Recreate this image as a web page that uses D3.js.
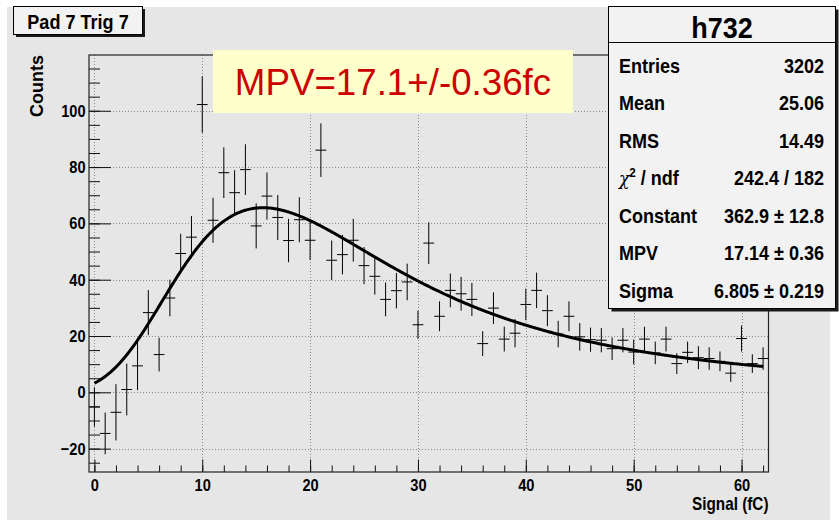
<!DOCTYPE html>
<html>
<head>
<meta charset="utf-8">
<script src="https://cdn.jsdelivr.net/npm/d3@7"></script>
<style>
  html, body { margin: 0; padding: 0; background: #ffffff; }
  svg { display: block; }
</style>
</head>
<body>
<svg id="chart" width="839" height="520"></svg>
<script>
// Histogram h732: background-subtracted signal per 1 fC bin (bin centres 0..62)
const binCenters = d3.range(0, 63);
const counts = [
  -5.2, -14.6, -7.1, 1.0, 9.4, 28.3, 13.4, 33.5, 49.3, 55.1,
  102.2, 61.1, 78.0, 70.9, 79.1, 59.1, 69.7, 62.1, 53.9, 61.3,
  54.0, 86.0, 46.9, 48.9, 54.0, 45.0, 41.2, 33.0, 36.1, 39.2,
  24.0, 53.0, 27.0, 36.2, 35.0, 33.0, 17.3, 29.9, 18.9, 21.0,
  31.2, 36.2, 29.0, 20.7, 27.0, 19.7, 18.7, 18.5, 15.5, 18.5,
  14.3, 18.9, 14.0, 18.9, 10.2, 14.2, 12.3, 12.0, 11.0, 6.8,
  19.1, 10.2, 12.0
];
const errors = [
  7.0, 7.4, 10.0, 9.2, 8.6, 8.0, 6.0, 6.5, 7.0, 7.5,
  10.0, 8.0, 9.0, 8.0, 9.0, 8.0, 8.4, 8.0, 7.7, 8.0,
  7.0, 9.5, 7.0, 7.0, 7.6, 6.6, 6.5, 6.0, 6.3, 6.5,
  5.0, 7.4, 5.3, 6.0, 6.0, 5.9, 4.4, 5.6, 4.4, 5.0,
  5.6, 6.3, 5.5, 4.7, 5.3, 4.9, 4.3, 4.3, 4.0, 4.3,
  4.4, 4.4, 4.0, 4.4, 3.7, 3.8, 4.1, 4.0, 3.5, 3.1,
  4.6, 3.3, 4.0
];

// Landau fit parameters
const fitConstant = 362.9;
const fitMPV = 17.14;
const fitSigma = 6.805;
const fitRange = [0, 62];

// Axis ticks
const xTicks = [0, 10, 20, 30, 40, 50, 60];
const xMinorTicks = d3.range(0, 63, 2);
const yTicks = [-20, 0, 20, 40, 60, 80, 100];
const yMinorTicks = d3.range(-25, 120, 5);

// Stats box
const statsTitle = "h732";
const statLabels = ["Entries", "Mean", "RMS", "chi2ndf", "Constant", "MPV", "Sigma"];
const statValues = ["3202", "25.06", "14.49", "242.4 / 182", "362.9 \u00b1 12.8", "17.14 \u00b1 0.36", "6.805 \u00b1 0.219"];

const padTitle = "Pad 7 Trig 7";
const mpvNote = "MPV=17.1+/-0.36fc";
const xTitle = "Signal (fC)";
const yTitle = "Counts";

// CERNLIB G110 DENLAN (standard Landau density)
function landauPdf(v) {
  const p1 = [0.4259894875, -0.1249762550, 0.03984243700, -0.006298287635, 0.001511162253];
  const q1 = [1.0, -0.3388260629, 0.09594393323, -0.01608042283, 0.003778942063];
  const p2 = [0.1788541609, 0.1173957403, 0.01488850518, -0.001394989411, 0.0001283617211];
  const q2 = [1.0, 0.7428795082, 0.3153932961, 0.06694219548, 0.008790609714];
  const p3 = [0.1788544503, 0.09359161662, 0.006325387654, 0.00006611667319, -0.000002031049101];
  const q3 = [1.0, 0.6097809921, 0.2560616665, 0.04746722384, 0.006957301675];
  const p4 = [0.9874054407, 118.6723273, 849.2794360, -743.7792444, 427.0262186];
  const q4 = [1.0, 106.8615961, 337.6496214, 2016.712389, 1597.063511];
  const p5 = [1.003675074, 167.5702434, 4789.711289, 21217.86767, -22324.94910];
  const q5 = [1.0, 156.9424537, 3745.310488, 9834.698876, 66924.28357];
  const a1 = [0.04166666667, -0.01996527778, 0.02709538966];
  const poly = (c, t) => c[0] + (c[1] + (c[2] + (c[3] + c[4] * t) * t) * t) * t;
  let u;
  if (v < -5.5) {
    u = Math.exp(v + 1.0);
    if (u < 1e-10) return 0;
    return 0.3989422803 * (Math.exp(-1 / u) / Math.sqrt(u)) * (1 + (a1[0] + (a1[1] + a1[2] * u) * u) * u);
  } else if (v < -1) {
    u = Math.exp(-v - 1);
    return Math.exp(-u) * Math.sqrt(u) * poly(p1, v) / poly(q1, v);
  } else if (v < 1) {
    return poly(p2, v) / poly(q2, v);
  } else if (v < 5) {
    return poly(p3, v) / poly(q3, v);
  } else if (v < 12) {
    u = 1 / v;
    return u * u * poly(p4, u) / poly(q4, u);
  } else {
    u = 1 / v;
    return u * u * poly(p5, u) / poly(q5, u);
  }
}
const fitFunc = t => fitConstant * landauPdf((t - fitMPV) / fitSigma);

const FONT = "'Liberation Sans', Arial, Helvetica, sans-serif";
const svg = d3.select("#chart");

// Frame geometry
const fx0 = 89, fx1 = 768.5, fy0 = 55, fy1 = 472;
const x = d3.scaleLinear().domain([-0.5, 62.5]).range([fx0, fx1]);
const y = d3.scaleLinear().domain([-28.3, 119.8]).range([fy1, fy0]);

// Pad and frame backgrounds
svg.append("rect").attr("x", 7).attr("y", 7).attr("width", 823).attr("height", 513).attr("fill", "#e6e6e6");
svg.append("rect").attr("x", fx0).attr("y", fy0).attr("width", fx1 - fx0).attr("height", fy1 - fy0)
  .attr("fill", "#e6e6e6");

svg.append("clipPath").attr("id", "frameClip").append("rect")
  .attr("x", fx0).attr("y", fy0).attr("width", fx1 - fx0).attr("height", fy1 - fy0);

// Grid
const grid = svg.append("g").attr("stroke", "#8a8a8a").attr("stroke-width", 1).attr("stroke-dasharray", "1,2");
grid.selectAll("line.gx").data(xTicks).join("line")
  .attr("x1", d => Math.round(x(d)) + 0.5).attr("x2", d => Math.round(x(d)) + 0.5)
  .attr("y1", fy0).attr("y2", fy1);
grid.selectAll("line.gy").data(yTicks).join("line")
  .attr("y1", d => Math.round(y(d)) + 0.5).attr("y2", d => Math.round(y(d)) + 0.5)
  .attr("x1", fx0).attr("x2", fx1);

// Axes (ticks point into the frame)
function styleAxis(g) {
  g.select(".domain").remove();
  g.selectAll(".tick line").attr("stroke", "#111");
}
const labelScale = 0.86;

const yMinor = svg.append("g").attr("transform", `translate(${fx0},0)`)
  .call(d3.axisLeft(y).tickValues(yMinorTicks).tickSizeInner(-11).tickSizeOuter(0).tickFormat(""));
styleAxis(yMinor);
const yMajor = svg.append("g").attr("transform", `translate(${fx0},0)`)
  .call(d3.axisLeft(y).tickValues(yTicks).tickSizeInner(-22).tickSizeOuter(0).tickPadding(4).tickFormat(d3.format("d")));
styleAxis(yMajor);
yMajor.selectAll("text")
  .attr("font-family", FONT).attr("font-size", 17).attr("font-weight", "bold").attr("fill", "#000")
  .attr("transform", `scale(${labelScale},1)`);

const xMinor = svg.append("g").attr("transform", `translate(0,${fy1})`)
  .call(d3.axisBottom(x).tickValues(xMinorTicks).tickSizeInner(-6.5).tickSizeOuter(0).tickFormat(""));
styleAxis(xMinor);
const xMajor = svg.append("g").attr("transform", `translate(0,${fy1})`)
  .call(d3.axisBottom(x).tickValues(xTicks).tickSizeInner(-12.5).tickSizeOuter(0).tickPadding(6.6).tickFormat(d3.format("d")));
styleAxis(xMajor);
xMajor.selectAll("text")
  .attr("font-family", FONT).attr("font-size", 17).attr("font-weight", "bold").attr("fill", "#000")
  .attr("transform", `scale(${labelScale},1)`);

// Frame border
svg.append("rect").attr("x", fx0).attr("y", fy0).attr("width", fx1 - fx0).attr("height", fy1 - fy0)
  .attr("fill", "none").attr("stroke", "#222").attr("stroke-width", 1.2);

// Text helper with horizontal condensing
function label(parent, px, py, str, opts) {
  const o = Object.assign({ size: 17, weight: "bold", anchor: "start", sx: 1, fill: "#000", rotate: 0 }, opts || {});
  return parent.append("text")
    .attr("transform", `translate(${px},${py}) rotate(${o.rotate}) scale(${o.sx},1)`)
    .attr("font-family", FONT).attr("font-size", o.size).attr("font-weight", o.weight)
    .attr("text-anchor", o.anchor).attr("fill", o.fill)
    .text(str);
}

// Axis titles
label(svg, fx1, 510, xTitle, { size: 18, anchor: "end", sx: 0.85 });
label(svg, 43, fy0, yTitle, { size: 18, anchor: "end", rotate: -90 });

// Data points with error bars
const pts = svg.append("g").attr("clip-path", "url(#frameClip)")
  .attr("stroke", "#000").attr("stroke-width", 1).attr("fill", "none");
const bins = binCenters.map((c, i) => ({ c, v: counts[i], e: errors[i] }));
pts.selectAll("line.h").data(bins).join("line").attr("class", "h")
  .attr("x1", d => x(d.c - 0.5)).attr("x2", d => x(d.c + 0.5))
  .attr("y1", d => y(d.v)).attr("y2", d => y(d.v));
pts.selectAll("line.v").data(bins).join("line").attr("class", "v")
  .attr("x1", d => x(d.c)).attr("x2", d => x(d.c))
  .attr("y1", d => y(d.v - d.e)).attr("y2", d => y(d.v + d.e));

// Landau fit curve
const curveX = d3.range(fitRange[0], fitRange[1] + 0.001, 0.1);
svg.append("path")
  .datum(curveX.map(t => [t, fitFunc(t)]))
  .attr("clip-path", "url(#frameClip)")
  .attr("fill", "none").attr("stroke", "#000").attr("stroke-width", 3)
  .attr("stroke-linejoin", "round")
  .attr("d", d3.line().x(d => x(d[0])).y(d => y(d[1])));

// MPV note
svg.append("rect").attr("x", 213).attr("y", 50).attr("width", 360).attr("height", 63).attr("fill", "#ffffcc");
label(svg, 393, 95, mpvNote, { size: 36, weight: "normal", anchor: "middle", fill: "#cc0000", sx: 1.02 });

// Pad title box
svg.append("rect").attr("x", 16).attr("y", 9).attr("width", 129).attr("height", 28).attr("fill", "#1a1a1a");
svg.append("rect").attr("x", 13.5).attr("y", 6.5).attr("width", 129).attr("height", 28)
  .attr("fill", "#f2f2f2").attr("stroke", "#000").attr("stroke-width", 1);
label(svg, 78, 28.5, padTitle, { size: 21, anchor: "middle", sx: 0.86 });

// Stats box
const sbx = 608.5, sby = 6.5, sbw = 227, sbh = 302;
svg.append("rect").attr("x", sbx + 3).attr("y", sby + 3).attr("width", sbw).attr("height", sbh).attr("fill", "#1a1a1a");
svg.append("rect").attr("x", sbx).attr("y", sby).attr("width", sbw).attr("height", sbh)
  .attr("fill", "#f2f2f2").attr("stroke", "#000").attr("stroke-width", 1);
svg.append("line").attr("x1", sbx).attr("x2", sbx + sbw).attr("y1", 42.5).attr("y2", 42.5)
  .attr("stroke", "#000").attr("stroke-width", 1);
label(svg, 722, 37.5, statsTitle, { size: 30, anchor: "middle", sx: 0.9 });

const rowY = d3.scaleLinear().domain([0, statLabels.length - 1]).range([72.7, 297.8]);
statLabels.forEach((name, i) => {
  const by = rowY(i);
  if (name === "chi2ndf") {
    const t = svg.append("text")
      .attr("transform", `translate(619,${by}) scale(0.9,1)`)
      .attr("font-family", FONT).attr("font-size", 20).attr("font-weight", "bold").attr("fill", "#000");
    t.append("tspan").attr("font-family", "'DejaVu Serif', serif").attr("font-style", "italic")
      .attr("font-weight", "normal").attr("font-size", 19).text("\u03c7");
    t.append("tspan").attr("font-size", 13).attr("dy", -8).text("2");
    t.append("tspan").attr("dy", 8).text(" / ndf");
  } else {
    label(svg, 619, by, name, { size: 20, sx: 0.9 });
  }
  label(svg, 824, by, statValues[i], { size: 20, anchor: "end", sx: 0.9 });
});
</script>
</body>
</html>
